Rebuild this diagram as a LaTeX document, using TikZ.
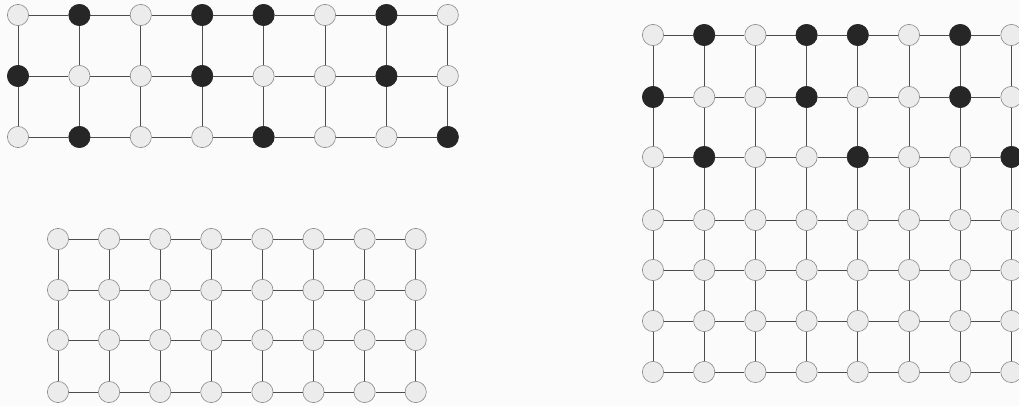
\documentclass[tikz,border=0pt]{standalone}
\usepackage{tikz}

\begin{document}
\begin{tikzpicture}[
    x=0.025cm, y=-0.025cm,
    dot/.style={draw=gray!90, circle, fill=gray!15, minimum size=0.53cm, inner sep=0pt, line width=0.45pt},
    blackdot/.style={dot, fill=black!85, draw=black!85},
    link/.style={draw=black!70, line width=0.6pt}
]
\useasboundingbox[fill=gray!3] (0,0) rectangle (1019,406);

% Gitter oben links (3 x 8)
\foreach \r/\y in {0/15,1/76,2/137}
    \foreach \c in {0,...,7}
        \node[dot] (a-\r-\c) at ({18+61.4*\c},\y) {};

% Gitter unten links (4 x 8)
\foreach \r/\y in {0/239,1/290,2/340,3/392}
    \foreach \c in {0,...,7}
        \node[dot] (b-\r-\c) at ({58+51.1*\c},\y) {};

% Gitter rechts (7 x 8)
\foreach \r/\y in {0/35,1/97,2/157,3/220,4/270,5/321,6/372}
    \foreach \c in {0,...,7}
        \node[dot] (c-\r-\c) at ({653+51.2*\c},\y) {};

% Kanten waagrecht
\foreach \c in {0,...,6} {
    \pgfmathtruncatemacro\n{\c+1}
    \foreach \r in {0,1,2}
        \draw[link] (a-\r-\c) -- (a-\r-\n);
    \foreach \r in {0,...,3}
        \draw[link] (b-\r-\c) -- (b-\r-\n);
    \foreach \r in {0,...,6}
        \draw[link] (c-\r-\c) -- (c-\r-\n);
}

% Kanten senkrecht
\foreach \c in {0,...,7} {
    \foreach \r in {0,1} {
        \pgfmathtruncatemacro\n{\r+1}
        \draw[link] (a-\r-\c) -- (a-\n-\c);
    }
    \foreach \r in {0,...,2} {
        \pgfmathtruncatemacro\n{\r+1}
        \draw[link] (b-\r-\c) -- (b-\n-\c);
    }
    \foreach \r in {0,...,5} {
        \pgfmathtruncatemacro\n{\r+1}
        \draw[link] (c-\r-\c) -- (c-\n-\c);
    }
}

% schwarze Knoten
\foreach \r/\c in {0/1,0/3,0/4,0/6,1/0,1/3,1/6,2/1,2/4,2/7} {
    \node[blackdot] at (a-\r-\c) {};
    \node[blackdot] at (c-\r-\c) {};
}

\end{tikzpicture}
\end{document}
